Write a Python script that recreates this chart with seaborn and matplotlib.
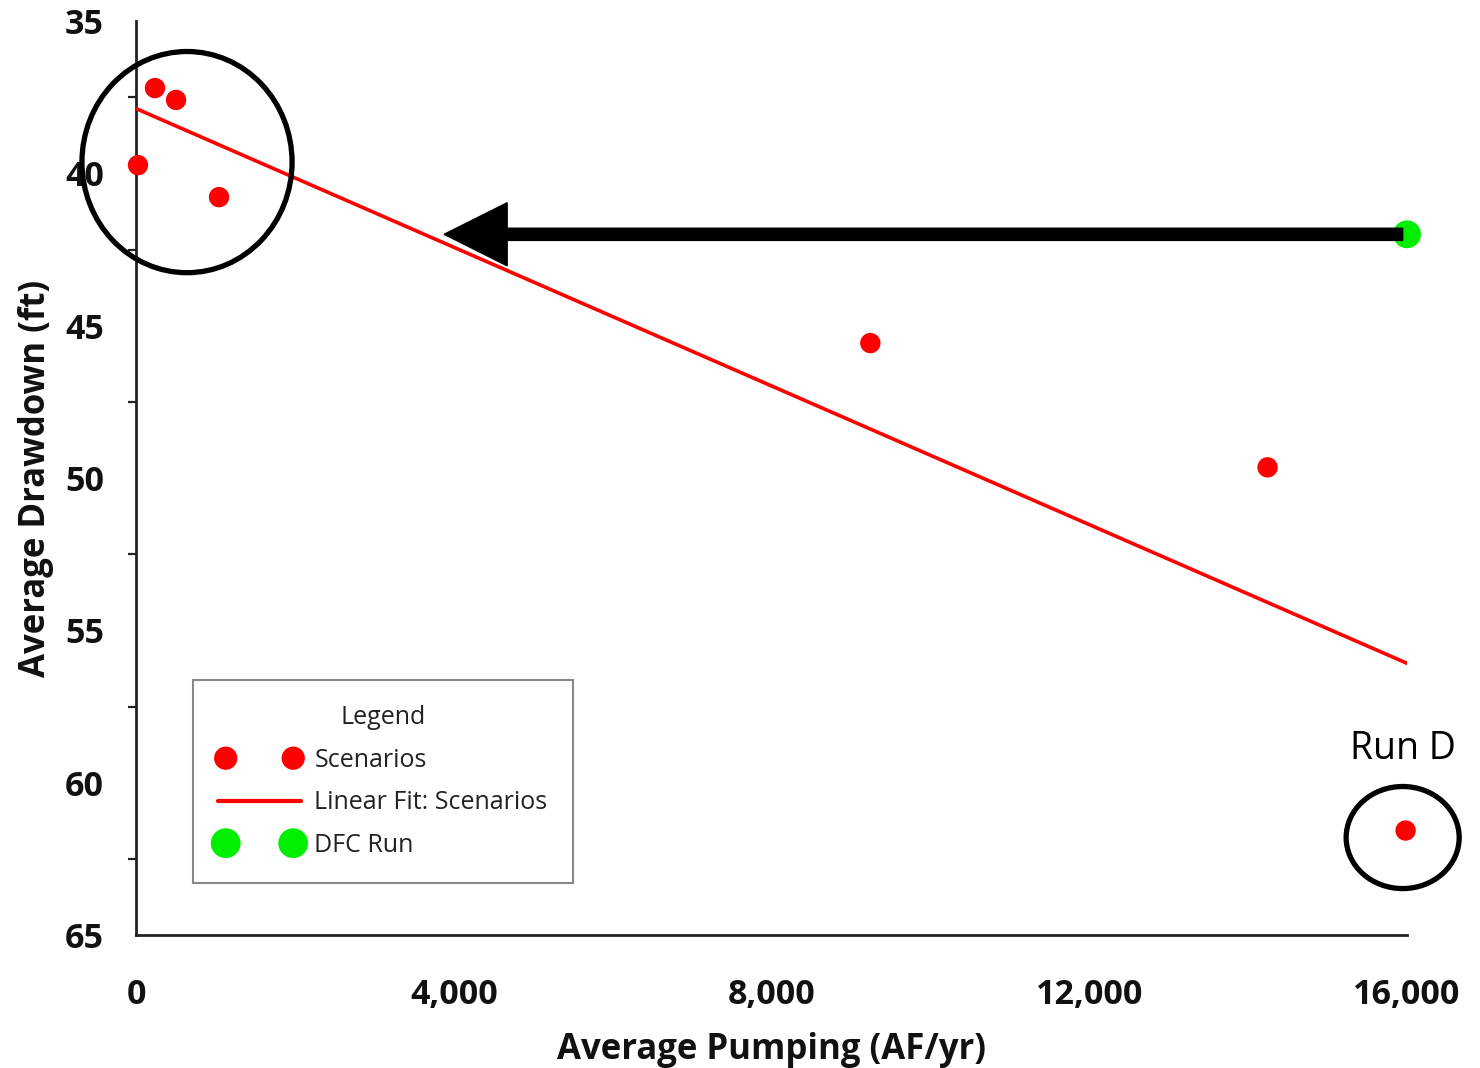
import numpy as np
import pandas as pd
import seaborn as sns
import matplotlib.pyplot as plt
from matplotlib.patches import Ellipse
from matplotlib.ticker import MultipleLocator, FuncFormatter

# Scenario runs: average pumping (AF/yr) vs. average drawdown (ft)
scenario_pumping = [25, 239, 504, 1045, 9244, 14244, 15982]
scenario_drawdown = [39.73, 37.20, 37.59, 40.78, 45.57, 49.65, 61.57]

# DFC run
dfc_pumping = [16000]
dfc_drawdown = [42.0]

x_ticks = [0, 4000, 8000, 12000, 16000]
y_ticks = [35, 40, 45, 50, 55, 60, 65]

scen = pd.DataFrame({"pumping": scenario_pumping, "drawdown": scenario_drawdown})
dfc = pd.DataFrame({"pumping": dfc_pumping, "drawdown": dfc_drawdown})

sns.set_theme(style="white")
plt.rcParams["font.family"] = ["Open Sans", "DejaVu Sans"]
BOLD = ["Open Sans", "DejaVu Sans"]

fig = plt.figure(figsize=(14.8, 10.68), dpi=100)
ax = fig.add_axes([0.0919, 0.1245, 0.8588, 0.8558])

ax.set_xlim(0, 16000)
ax.set_ylim(65, 35)

# Least-squares fit through the scenario runs, drawn across the full x range
slope, intercept = np.polyfit(scen["pumping"], scen["drawdown"], 1)
fit = pd.DataFrame({"pumping": [0, 16000]})
fit["drawdown"] = intercept + slope * fit["pumping"]
sns.lineplot(data=fit, x="pumping", y="drawdown", color="#ff0000", lw=2.6,
             label="Linear Fit: Scenarios", ax=ax, zorder=3)

sns.scatterplot(data=scen, x="pumping", y="drawdown", color="#ff0000", s=215,
                edgecolor="none", label="Scenarios", ax=ax, zorder=4,
                clip_on=False)

# Arrow from the DFC run back to the fitted line
ax.arrow(15945, 42.0, 3879 - 15945, 0, width=0.40, head_width=2.07,
         head_length=793, length_includes_head=True, color="black",
         zorder=6, clip_on=False)

sns.scatterplot(data=dfc, x="pumping", y="drawdown", color="#00ee00", s=400,
                edgecolor="none", label="DFC Run", ax=ax, zorder=5,
                clip_on=False)

# Highlight circles
ax.add_patch(Ellipse((642, 39.63), 2645, 7.26, fill=False, ec="black",
                     lw=3.8, zorder=7, clip_on=False))
ax.add_patch(Ellipse((15945, 61.8), 1423, 3.35, fill=False, ec="black",
                     lw=3.8, zorder=7, clip_on=False))
ax.text(15945, 58.9, "Run D", ha="center", va="center", fontsize=27,
        color="black")

# Axes styling
for side in ("top", "right"):
    ax.spines[side].set_visible(False)
for side in ("left", "bottom"):
    ax.spines[side].set_color("#222222")
    ax.spines[side].set_linewidth(2.0)

ax.set_xticks(x_ticks)
ax.set_yticks(y_ticks)
ax.yaxis.set_minor_locator(MultipleLocator(2.5))
ax.xaxis.set_major_formatter(FuncFormatter(lambda v, p: f"{int(v):,}"))
ax.tick_params(axis="both", which="major", direction="out", length=11,
               width=2.0, color="#222222", labelsize=24.5)
ax.tick_params(axis="x", which="major", pad=20)
ax.tick_params(axis="y", which="major", pad=12)
ax.tick_params(axis="y", which="minor", direction="out", length=6,
               width=1.6, color="#222222", left=True)
for lab in ax.get_xticklabels() + ax.get_yticklabels():
    lab.set_fontweight("bold")
    lab.set_family(BOLD)
    lab.set_color("#111111")

ax.set_xlabel("Average Pumping (AF/yr)", fontsize=25, fontweight="bold",
              family=BOLD, color="#111111", labelpad=14)
ax.set_ylabel("Average Drawdown (ft)", fontsize=25, fontweight="bold",
              family=BOLD, color="#111111", labelpad=8)

# Legend in the order: scenarios, fit, DFC run
handles, labels = ax.get_legend_handles_labels()
order = [labels.index(n) for n in ("Scenarios", "Linear Fit: Scenarios", "DFC Run")]
leg = ax.legend([handles[i] for i in order], [labels[i] for i in order],
                loc="lower left", bbox_to_anchor=(0.045, 0.057),
                borderaxespad=0, title="Legend", fontsize=18,
                title_fontsize=18, scatterpoints=2, scatteryoffsets=[0.5],
                handlelength=3.3, handletextpad=0.55, labelspacing=0.7,
                borderpad=1.0, fancybox=False, framealpha=1,
                edgecolor="#888888")
leg.get_frame().set_linewidth(1.5)
for t in leg.get_texts():
    t.set_color("#222222")
leg.get_title().set_color("#222222")
lh = leg.legend_handles
lh[0].set_sizes([280])
lh[2].set_sizes([460])
lh[1].set_linewidth(3.0)

fig.savefig("out.png", dpi=100)
